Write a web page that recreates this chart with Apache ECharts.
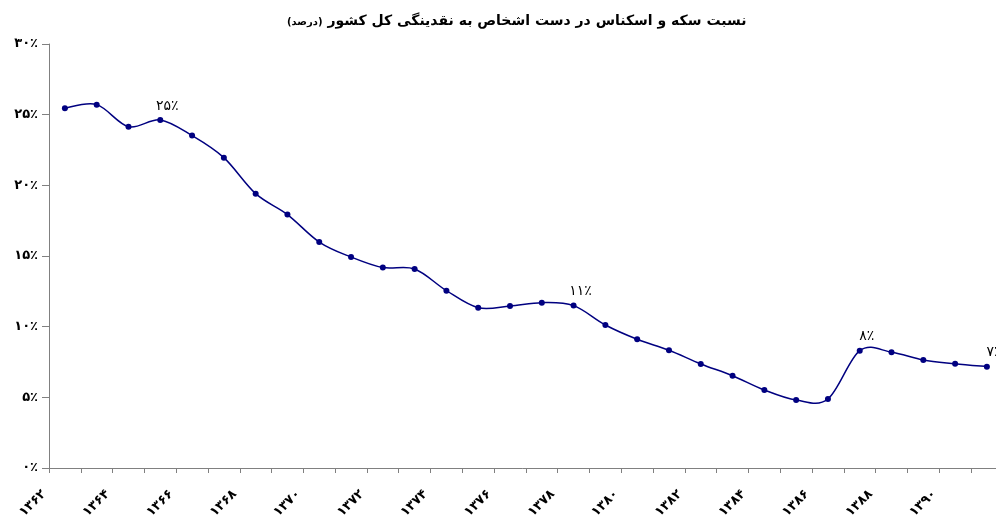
<!DOCTYPE html>
<html>
<head>
<meta charset="utf-8">
<script src="https://cdn.jsdelivr.net/npm/echarts@6/dist/echarts.min.js"></script>
<style>html,body{margin:0;padding:0;background:#fff;overflow:hidden}#c{width:996px;height:515px}</style>
</head>
<body>
<div id="c"></div>
<script>
const years = [1362,1363,1364,1365,1366,1367,1368,1369,1370,1371,1372,1373,1374,1375,1376,1377,1378,1379,1380,1381,1382,1383,1384,1385,1386,1387,1388,1389,1390,1391];
const shares = [25.46,25.71,24.15,24.63,23.52,21.96,19.41,17.93,15.99,14.93,14.18,14.08,12.55,11.34,11.46,11.70,11.49,10.12,9.11,8.33,7.36,6.53,5.52,4.81,4.88,8.30,8.19,7.64,7.38,7.17];
const labeledIdx = [3,16,25,29];
const yTicks = [0,5,10,15,20,25,30];
const titleMain = 'نسبت سکه و اسکناس در دست اشخاص به نقدینگی کل کشور';
const titleUnit = '(درصد)';

const toFa = s => String(s).replace(/\d/g, d => '۰۱۲۳۴۵۶۷۸۹'[d]);
const FONT = 'DejaVu Sans';
const LINE = '#000080';
const n = shares.length;

function renderSegment(params, api) {
  const i = params.dataIndex;
  if (i >= n - 1) return null;
  const c = j => Math.max(0, Math.min(n - 1, j));
  const p = j => api.coord([c(j), shares[c(j)]]);
  const p0 = p(i - 1), p1 = p(i), p2 = p(i + 1), p3 = p(i + 2);
  const k = 1 / 6;
  return {
    type:'bezierCurve',
    shape:{
      x1:p1[0], y1:p1[1], x2:p2[0], y2:p2[1],
      cpx1:p1[0] + (p2[0] - p0[0]) * k, cpy1:p1[1] + (p2[1] - p0[1]) * k,
      cpx2:p2[0] - (p3[0] - p1[0]) * k, cpy2:p2[1] - (p3[1] - p1[1]) * k
    },
    style:{stroke:LINE, lineWidth:1.5, fill:null}
  };
}

const chart = echarts.init(document.getElementById('c'), null, {renderer:'canvas'});
chart.setOption({
  animation:false,
  backgroundColor:'#fff',
  title:{
    text:'{s|' + titleUnit + '} {b|' + titleMain + '}',
    left:282, top:7,
    textStyle:{
      rich:{
        b:{fontFamily:FONT,fontWeight:'bold',fontSize:14,color:'#000'},
        s:{fontFamily:FONT,fontWeight:'bold',fontSize:10,color:'#000',padding:[3,0,0,0]}
      }
    }
  },
  grid:{left:49,top:44,right:-6.8,bottom:47,containLabel:false,outerBoundsMode:'none'},
  xAxis:[{
    type:'category',
    data:years.map(String),
    boundaryGap:true,
    axisLine:{lineStyle:{color:'#808080',width:1}},
    axisTick:{show:true,interval:0,length:5,lineStyle:{color:'#808080'}},
    axisLabel:{show:false},
    splitLine:{show:false}
  },{
    type:'value',
    min:0,max:30,interval:2,
    position:'bottom',
    axisLine:{show:false},
    axisTick:{show:false},
    splitLine:{show:false},
    axisLabel:{
      rotate:45,margin:19,padding:[0,7,0,0],
      fontFamily:FONT,fontWeight:'bold',fontSize:13,color:'#000',
      formatter:v => (v < years.length ? toFa(years[v]) : '')
    }
  }],
  yAxis:{
    type:'value',min:0,max:30,interval:5,
    axisLine:{show:true,lineStyle:{color:'#808080',width:1}},
    axisTick:{show:true,inside:false,length:7,lineStyle:{color:'#808080'}},
    splitLine:{show:false},
    axisLabel:{
      margin:11,fontFamily:FONT,fontWeight:'bold',fontSize:13,color:'#000',
      formatter:v => (yTicks.indexOf(v) >= 0 ? toFa(v) + '٪' : '')
    }
  },
  series:[{
    type:'custom',
    xAxisIndex:0,
    clip:false,
    z:1,
    data:shares.map((v,i) => [i, v]),
    renderItem:renderSegment
  },{
    type:'line',
    xAxisIndex:0,
    z:2,
    data:shares.map((v,i) => ({
      value:v,
      label:{show:labeledIdx.indexOf(i) >= 0}
    })),
    symbol:'circle',symbolSize:6,
    lineStyle:{width:0,opacity:0},
    itemStyle:{color:LINE},
    label:{
      position:'top',distance:4,offset:[7,0],
      fontFamily:FONT,fontSize:14,color:'#000',
      formatter:p => toFa(Math.round(p.value)) + '٪'
    }
  }]
});
</script>
</body>
</html>
